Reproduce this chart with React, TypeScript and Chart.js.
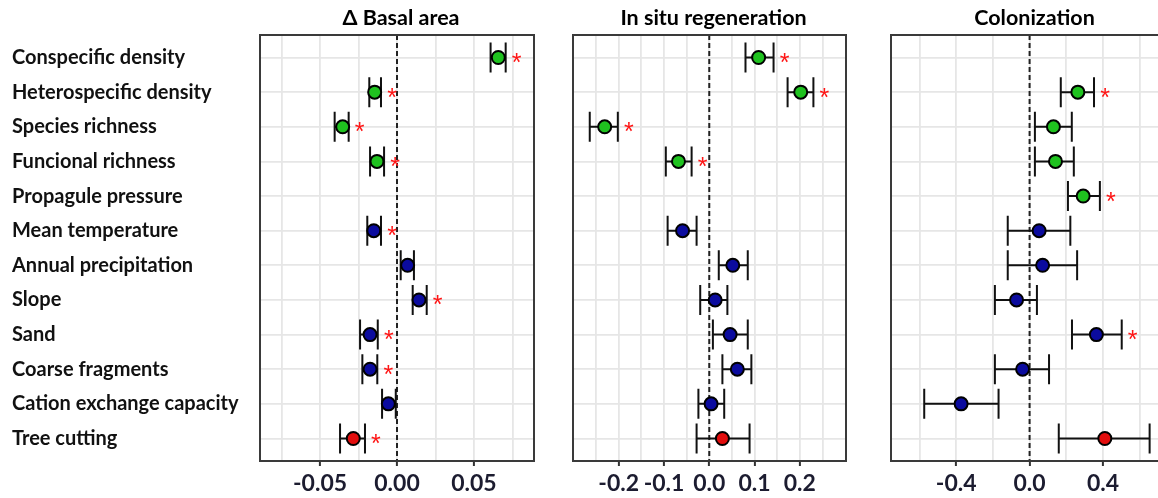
import React, { useEffect, useRef } from 'react';
import { Chart, registerables } from 'chart.js';

Chart.register(...registerables);

// ---------------- data ----------------
const categories = [
  'Conspecific density',
  'Heterospecific density',
  'Species richness',
  'Funcional richness',
  'Propagule pressure',
  'Mean temperature',
  'Annual precipitation',
  'Slope',
  'Sand',
  'Coarse fragments',
  'Cation exchange capacity',
  'Tree cutting',
];

// predictor group: b = biotic (green), a = abiotic (blue), d = disturbance (red)
const groups = ['b', 'b', 'b', 'b', 'b', 'a', 'a', 'a', 'a', 'a', 'a', 'd'];

const panelTitles = ['\u0394 Basal area', 'In situ regeneration', 'Colonization'];

// Δ Basal area
const basalEst = [0.0658, -0.0145, -0.0353, -0.013, null, -0.0151, 0.0069, 0.0143, -0.0175, -0.0175, -0.0056, -0.0284];
const basalLo = [0.0608, -0.018, -0.0405, -0.0175, null, -0.0193, 0.0024, 0.0102, -0.024, -0.0225, -0.0097, -0.037];
const basalHi = [0.0706, -0.0104, -0.0314, -0.0084, null, -0.0104, 0.011, 0.0193, -0.0125, -0.0128, -0.0008, -0.0208];
const basalSig = [true, true, true, true, false, true, false, true, true, true, false, true];

// In situ regeneration
const regenEst = [0.109, 0.202, -0.231, -0.068, null, -0.059, 0.052, 0.013, 0.046, 0.062, 0.004, 0.029];
const regenLo = [0.08, 0.173, -0.264, -0.096, null, -0.092, 0.021, -0.02, 0.008, 0.029, -0.024, -0.028];
const regenHi = [0.142, 0.23, -0.202, -0.039, null, -0.028, 0.085, 0.04, 0.085, 0.093, 0.033, 0.089];
const regenSig = [true, true, true, true, false, false, false, false, false, false, false, false];

// Colonization
const colonEst = [null, 0.263, 0.13, 0.141, 0.292, 0.052, 0.071, -0.071, 0.364, -0.038, -0.373, 0.41];
const colonLo = [null, 0.17, 0.029, 0.029, 0.209, -0.119, -0.119, -0.189, 0.231, -0.189, -0.574, 0.159];
const colonHi = [null, 0.351, 0.23, 0.241, 0.383, 0.222, 0.259, 0.04, 0.502, 0.106, -0.169, 0.654];
const colonSig = [false, true, false, false, true, false, false, false, true, false, false, false];

// axis ticks
const basalGrid = [-0.075, -0.05, -0.025, 0, 0.025, 0.05, 0.075];
const basalMajor = [-0.05, 0, 0.05];
const basalLabels = ['-0.05', '0.00', '0.05'];

const regenGrid = [-0.25, -0.2, -0.15, -0.1, -0.05, 0, 0.05, 0.1, 0.15, 0.2, 0.25];
const regenMajor = [-0.2, -0.1, 0, 0.1, 0.2];
const regenLabels = ['-0.2', '-0.1', '0.0', '0.1', '0.2'];

const colonGrid = [-0.6, -0.4, -0.2, 0, 0.2, 0.4, 0.6];
const colonMajor = [-0.4, 0, 0.4];
const colonLabels = ['-0.4', '0.0', '0.4'];

// ---------------- styling ----------------
const COLORS: Record<string, string> = { b: '#1fc21f', a: '#0b0b9e', d: '#e20d0d' };
const FONT = 'Lato, "Liberation Sans", sans-serif';
const H = 498;
const PLOT_TOP = 35;
const PLOT_BOTTOM = 461;

type Panel = {
  title: string;
  est: (number | null)[];
  lo: (number | null)[];
  hi: (number | null)[];
  sig: boolean[];
  min: number;
  max: number;
  grid: number[];
  major: number[];
  labels: string[];
  showY: boolean;
  left: number;
  width: number;
  padLeft: number;
  padRight: number;
  yWidth: number;
};

const panels: Panel[] = [
  {
    title: panelTitles[0], est: basalEst, lo: basalLo, hi: basalHi, sig: basalSig,
    min: -0.089, max: 0.089, grid: basalGrid, major: basalMajor, labels: basalLabels,
    showY: true, left: 0, width: 550, padLeft: 12, padRight: 16, yWidth: 248,
  },
  {
    title: panelTitles[1], est: regenEst, lo: regenLo, hi: regenHi, sig: regenSig,
    min: -0.301, max: 0.302, grid: regenGrid, major: regenMajor, labels: regenLabels,
    showY: false, left: 550, width: 330, padLeft: 23, padRight: 34, yWidth: 0,
  },
  {
    title: panelTitles[2], est: colonEst, lo: colonLo, hi: colonHi, sig: colonSig,
    min: -0.755, max: 0.765, grid: colonGrid, major: colonMajor, labels: colonLabels,
    showY: false, left: 880, width: 310, padLeft: 11, padRight: 20, yWidth: 0,
  },
];

const near = (a: number, b: number) => Math.abs(a - b) < 1e-9;

function makePlugin(p: Panel) {
  return {
    id: 'forestDecor',
    beforeDatasetsDraw(chart: any) {
      const { ctx, chartArea, scales } = chart;
      const xs = scales.x;
      const ys = scales.y;
      ctx.save();
      // zero reference line
      const x0 = xs.getPixelForValue(0);
      ctx.strokeStyle = '#222';
      ctx.lineWidth = 2;
      ctx.setLineDash([5, 3]);
      ctx.beginPath();
      ctx.moveTo(x0, chartArea.top);
      ctx.lineTo(x0, chartArea.bottom);
      ctx.stroke();
      ctx.setLineDash([]);
      // error bars
      ctx.strokeStyle = '#111';
      ctx.lineWidth = 2;
      const cap = 15;
      p.lo.forEach((lo, i) => {
        const hi = p.hi[i];
        if (lo == null || hi == null) return;
        const y = ys.getPixelForValue(i);
        const xl = xs.getPixelForValue(lo);
        const xh = xs.getPixelForValue(hi);
        ctx.beginPath();
        ctx.moveTo(xl, y);
        ctx.lineTo(xh, y);
        ctx.moveTo(xl, y - cap);
        ctx.lineTo(xl, y + cap);
        ctx.moveTo(xh, y - cap);
        ctx.lineTo(xh, y + cap);
        ctx.stroke();
      });
      ctx.restore();
    },
    afterDraw(chart: any) {
      const { ctx, chartArea, scales } = chart;
      const xs = scales.x;
      const ys = scales.y;
      ctx.save();
      // significance asterisks
      ctx.fillStyle = '#ff1515';
      ctx.font = '25px "Liberation Sans", sans-serif';
      ctx.textAlign = 'center';
      ctx.textBaseline = 'alphabetic';
      p.sig.forEach((s, i) => {
        const hi = p.hi[i];
        if (!s || hi == null) return;
        const y = ys.getPixelForValue(i);
        ctx.fillText('*', xs.getPixelForValue(hi) + 11, y + 13.5);
      });
      // panel frame
      ctx.strokeStyle = '#3a3a3a';
      ctx.lineWidth = 2;
      ctx.strokeRect(chartArea.left, chartArea.top, chartArea.right - chartArea.left, chartArea.bottom - chartArea.top);
      // strip title
      ctx.fillStyle = '#000';
      ctx.font = `bold 21.5px ${FONT}`;
      ctx.textAlign = 'center';
      ctx.textBaseline = 'middle';
      ctx.fillText(p.title, (chartArea.left + chartArea.right) / 2 + 4, 18);
      ctx.restore();
    },
  };
}

function PanelChart({ p }: { p: Panel }) {
  const ref = useRef<HTMLCanvasElement | null>(null);
  useEffect(() => {
    if (!ref.current) return;
    const pts: { x: number; y: number }[] = [];
    const cols: string[] = [];
    p.est.forEach((v, i) => {
      if (v == null) return;
      pts.push({ x: v, y: i });
      cols.push(COLORS[groups[i]]);
    });
    const chart = new Chart(ref.current, {
      type: 'scatter',
      data: {
        datasets: [
          {
            data: pts,
            pointRadius: 6.5,
            pointHoverRadius: 6.5,
            pointBorderWidth: 2,
            pointBorderColor: '#000',
            pointBackgroundColor: cols,
          },
        ],
      },
      options: {
        responsive: false,
        animation: false,
        devicePixelRatio: 1,
        events: [],
        layout: { padding: { left: p.padLeft, right: p.padRight, top: PLOT_TOP, bottom: 0 } },
        plugins: { legend: { display: false }, tooltip: { enabled: false }, title: { display: false } },
        scales: {
          x: {
            type: 'linear',
            position: 'bottom',
            min: p.min,
            max: p.max,
            afterBuildTicks: (s: any) => {
              s.ticks = p.grid.map((v) => ({ value: v }));
            },
            afterFit: (s: any) => {
              s.height = H - PLOT_BOTTOM;
            },
            border: { display: false },
            grid: {
              color: '#e6e6e6',
              lineWidth: 1.8,
              drawTicks: true,
              tickLength: 5,
              tickWidth: 2,
              tickColor: (c: any) => (p.major.some((m) => near(m, c.tick?.value)) ? '#333' : 'rgba(0,0,0,0)'),
            },
            ticks: {
              autoSkip: false,
              maxRotation: 0,
              minRotation: 0,
              padding: 4,
              color: '#1c1c30',
              font: { family: FONT, size: 23, weight: 'bold' },
              callback: (v: any) => {
                const k = p.major.findIndex((m) => near(m, Number(v)));
                return k >= 0 ? p.labels[k] : '';
              },
            },
          },
          y: {
            type: 'linear',
            reverse: true,
            min: -0.65,
            max: 11.65,
            afterBuildTicks: (s: any) => {
              s.ticks = categories.map((_, i) => ({ value: i }));
            },
            afterFit: (s: any) => {
              s.width = p.yWidth;
            },
            border: { display: false },
            grid: { color: '#e6e6e6', lineWidth: 1.8, drawTicks: false },
            ticks: {
              display: p.showY,
              autoSkip: false,
              crossAlign: 'far',
              padding: 0,
              color: '#111',
              font: { family: FONT, size: 20, weight: 'bold' },
              callback: (_v: any, i: number) => categories[i],
            },
          },
        },
      } as any,
      plugins: [makePlugin(p)],
    });
    return () => chart.destroy();
  }, [p]);
  return (
    <canvas
      ref={ref}
      width={p.width}
      height={H}
      style={{ position: 'absolute', left: p.left, top: 0, width: p.width, height: H }}
    />
  );
}

export default function App() {
  return (
    <div
      style={{
        position: 'fixed',
        left: 0,
        top: 0,
        width: 1158,
        height: H,
        overflow: 'hidden',
        background: '#fff',
      }}
    >
      {panels.map((p, i) => (
        <PanelChart key={i} p={p} />
      ))}
    </div>
  );
}
